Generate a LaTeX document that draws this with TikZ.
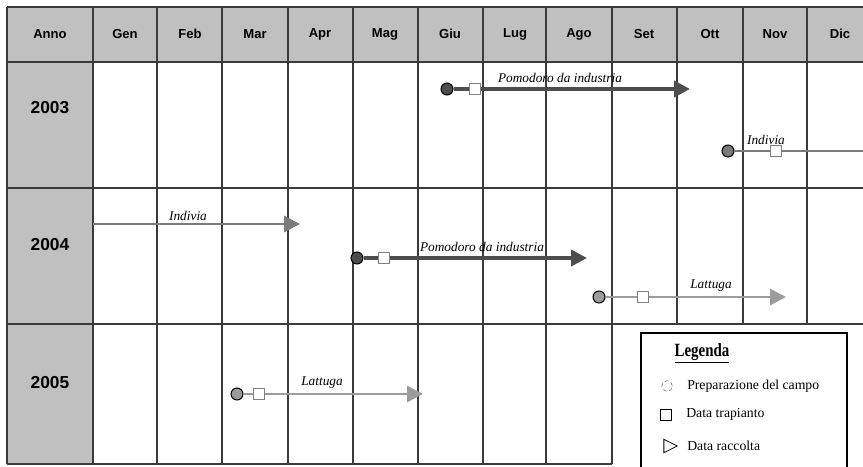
\documentclass[tikz,border=0pt]{standalone}
\usepackage{fontspec}
\setmainfont{Liberation Serif}
\newfontfamily\arialfont{Liberation Sans}
\usetikzlibrary{arrows.meta,shapes.geometric}

\definecolor{cellgray}{HTML}{C0C0C0}
\definecolor{gridline}{HTML}{3A3A3A}
\definecolor{pomodoro}{HTML}{4D4D4D}
\definecolor{indivia}{HTML}{7A7A7A}
\definecolor{lattuga}{HTML}{9C9C9C}

\tikzset{
  head/.style={font=\arialfont\bfseries\fontsize{9.8}{11}\selectfont},
  year/.style={font=\arialfont\bfseries\fontsize{13}{15}\selectfont},
  crop/.style={font=\itshape\fontsize{10}{12}\selectfont, inner sep=1pt},
  prep/.style={circle, draw=black, line width=0.8pt, minimum size=9pt, inner sep=0pt},
  trap/.style={rectangle, draw=gray, fill=white, line width=0.7pt, minimum size=8.2pt, inner sep=0pt},
  run/.style={line width=2.2pt},
  tip/.style={-{Triangle[length=12pt,width=12pt]}},
  keytext/.style={anchor=west, inner sep=0pt, font=\fontsize{10.3}{12}\selectfont},
}

\begin{document}
\begin{tikzpicture}[yscale=-1]

    \begin{scope}[x=0.75pt,y=0.75pt]
      \useasboundingbox (0,0) rectangle (863,467);
      \clip (0,0) rectangle (863,467);

      % table
      \fill[cellgray] (7,7) rectangle (875,62);
      \fill[cellgray] (7,62) rectangle (93,464);
      \draw[gridline, line width=1.1pt] (7,7) -- (875,7) (7,62) -- (875,62) (7,188) -- (875,188) (7,324) -- (875,324) (7,464) -- (612,464);
      \foreach \x in {7,93,157,222,288,353,418,483,546,612}
        \draw[gridline, line width=1.1pt] (\x,7) -- (\x,464);
      \foreach \x in {677,743,807}
        \draw[gridline, line width=1.1pt] (\x,7) -- (\x,324);

      \foreach \x/\m in {50/Anno,125/Gen,190/Feb,255/Mar,320/Apr,385/Mag,450/Giu,515/Lug,579/Ago,644/Set,710/Ott,775/Nov,840/Dic}
        \node[head] (h\m) at (\x,34) {\m};

      \node[year] (y2003) at (50,108) {2003};
      \node[year] (y2004) at (50,245) {2004};
      \node[year] (y2005) at (50,383) {2005};

      % 2003
      \node[prep, fill=pomodoro] (p3a) at (447,89) {};
      \node[trap] (t3a) at (475,89) {};
      \coordinate (e3a) at (690,89);
      \draw[run, pomodoro, line width=3pt] (p3a) -- (t3a);
      \draw[run, pomodoro, line width=3pt, tip] (t3a) -- (e3a);
      \node[crop] (l3a) at (560,78) {Pomodoro da industria};

      \node[prep, fill=indivia] (p3b) at (728,151) {};
      \node[trap] (t3b) at (776,151) {};
      \coordinate (e3b) at (875,151);
      \draw[run, indivia] (p3b) -- (t3b);
      \draw[run, indivia] (t3b) -- (e3b);
      \node[crop] (l3b) at (766,140) {Indivia};

      % 2004
      \coordinate (s4a) at (93,224);
      \coordinate (e4a) at (300,224);
      \draw[run, indivia, tip] (s4a) -- (e4a);
      \node[crop] (l4a) at (188,216) {Indivia};

      \node[prep, fill=pomodoro] (p4b) at (357,258) {};
      \node[trap] (t4b) at (384,258) {};
      \coordinate (e4b) at (587,258);
      \draw[run, pomodoro, line width=3pt] (p4b) -- (t4b);
      \draw[run, pomodoro, line width=3pt, tip] (t4b) -- (e4b);
      \node[crop] (l4b) at (482,247) {Pomodoro da industria};

      \node[prep, fill=lattuga] (p4c) at (599,297) {};
      \node[trap] (t4c) at (643,297) {};
      \coordinate (e4c) at (786,297);
      \draw[run, lattuga] (p4c) -- (t4c);
      \draw[run, lattuga, tip] (t4c) -- (e4c);
      \node[crop] (l4c) at (711,286) {Lattuga};

      % 2005
      \node[prep, fill=lattuga] (p5a) at (237,394) {};
      \node[trap] (t5a) at (259,394) {};
      \coordinate (e5a) at (423,394);
      \draw[run, lattuga] (p5a) -- (t5a);
      \draw[run, lattuga, tip] (t5a) -- (e5a);
      \node[crop] (l5a) at (322,383) {Lattuga};

      % legend
      \draw[black, line width=1pt, fill=white] (641,333) rectangle (847,480);
      \node[font=\bfseries\fontsize{14}{16}\selectfont] (legenda) at (702,353) {\scalebox{0.8}[1]{\underline{Legenda}}};
      \node[circle, draw=gray, densely dashed, line width=0.5pt, minimum size=8pt, inner sep=0pt] (kprep) at (667,386) {};
      \node[keytext] (tprep) at (687,386) {Preparazione del campo};
      \node[draw=black, line width=0.6pt, minimum size=8pt, inner sep=0pt] (ktrap) at (666,415) {};
      \node[keytext] (ttrap) at (686,414) {Data trapianto};
      \node[isosceles triangle, isosceles triangle stretches, draw=black, line width=0.6pt, minimum width=10pt, minimum height=10pt, inner sep=0pt] (krac) at (668,446) {};
      \node[keytext] (trac) at (687,446) {Data raccolta};
    \end{scope}
    \end{tikzpicture}
\end{document}
